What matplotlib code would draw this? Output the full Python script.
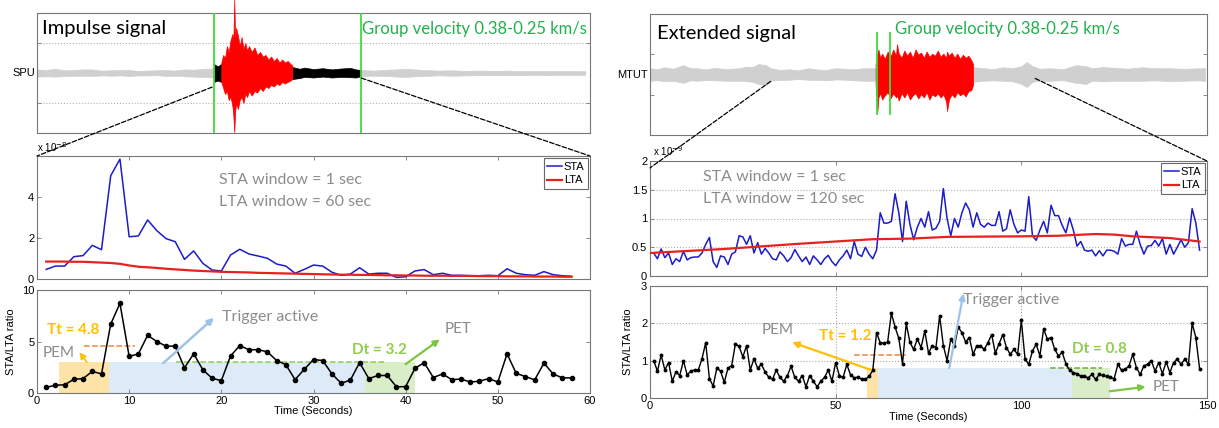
import numpy as np
import matplotlib
matplotlib.use("Agg")
import matplotlib.pyplot as plt
from matplotlib.patches import ConnectionPatch

# ---------------- data ----------------
# Left: impulse signal (SPU), samples every second
left_sta = [0.47, 0.63, 0.63, 1.09, 1.14, 1.64, 1.43, 5.04, 5.85, 2.06,
            2.10, 2.88, 2.36, 1.97, 1.82, 0.96, 1.37, 0.76, 0.44, 0.39,
            1.17, 1.45, 1.22, 1.12, 1.01, 0.73, 0.63, 0.28, 0.47, 0.68,
            0.63, 0.33, 0.18, 0.24, 0.55, 0.24, 0.28, 0.28, 0.08, 0.11,
            0.39, 0.46, 0.21, 0.28, 0.18, 0.18, 0.16, 0.16, 0.18, 0.16,
            0.50, 0.28, 0.21, 0.18, 0.36, 0.21, 0.16, 0.13]
left_lta = [0.85, 0.85, 0.85, 0.84, 0.84, 0.82, 0.80, 0.78, 0.74, 0.66,
            0.60, 0.57, 0.54, 0.50, 0.47, 0.44, 0.41, 0.39, 0.37, 0.35,
            0.34, 0.33, 0.32, 0.30, 0.29, 0.28, 0.27, 0.26, 0.25, 0.24,
            0.23, 0.22, 0.21, 0.21, 0.20, 0.20, 0.19, 0.18, 0.18, 0.17,
            0.17, 0.16, 0.16, 0.16, 0.15, 0.15, 0.15, 0.14, 0.14, 0.14,
            0.13, 0.13, 0.13, 0.12, 0.12, 0.12, 0.11, 0.11]
left_ratio = [0.55, 0.75, 0.80, 1.33, 1.40, 2.10, 1.85, 6.70, 8.70, 3.55,
              3.80, 5.60, 5.00, 4.55, 4.55, 2.45, 3.80, 2.25, 1.43, 1.20,
              3.60, 4.60, 4.20, 4.20, 4.00, 3.15, 2.75, 1.30, 2.30, 3.25,
              3.15, 1.85, 0.95, 1.25, 2.95, 1.40, 1.70, 1.70, 0.60, 0.62,
              2.38, 2.95, 1.50, 1.85, 1.30, 1.35, 1.07, 1.14, 1.40, 1.07,
              3.80, 1.90, 1.60, 1.27, 2.90, 1.85, 1.47, 1.47]
left_time = np.arange(1, len(left_ratio) + 1)
left_pem = (2.4, 7.8)
left_trigger = (7.8, 35.6)
left_pet = (35.6, 41.0)
left_level = 3.0
left_tt = 4.6
left_dt = 3.0

# Right: extended signal (MTUT), samples every second
right_sta = [0.40, 0.30, 0.47, 0.32, 0.40, 0.20, 0.30, 0.25, 0.43, 0.28,
             0.32, 0.33, 0.33, 0.40, 0.55, 0.67, 0.25, 0.15, 0.35, 0.33,
             0.20, 0.38, 0.42, 0.70, 0.68, 0.55, 0.70, 0.40, 0.58, 0.38,
             0.48, 0.40, 0.30, 0.28, 0.42, 0.35, 0.25, 0.32, 0.46, 0.35,
             0.25, 0.33, 0.20, 0.35, 0.28, 0.20, 0.30, 0.36, 0.25, 0.18,
             0.28, 0.35, 0.45, 0.30, 0.60, 0.38, 0.34, 0.50, 0.38, 0.30,
             0.45, 1.10, 0.92, 0.92, 0.95, 1.43, 1.10, 0.60, 1.30, 0.90,
             0.63, 0.85, 1.00, 0.85, 1.12, 0.80, 0.83, 0.95, 1.52, 1.00,
             0.70, 1.00, 0.85, 1.10, 1.27, 1.15, 0.85, 1.10, 0.90, 0.85,
             0.92, 0.88, 0.88, 1.12, 0.78, 0.82, 1.15, 0.90, 0.75, 0.80,
             0.78, 1.38, 0.70, 0.62, 0.80, 0.95, 0.75, 1.23, 1.05, 1.05,
             0.88, 0.75, 1.01, 0.80, 0.52, 0.60, 0.45, 0.43, 0.45, 0.35,
             0.44, 0.35, 0.45, 0.45, 0.43, 0.38, 0.65, 0.52, 0.55, 0.55,
             0.78, 0.55, 0.38, 0.52, 0.53, 0.62, 0.52, 0.65, 0.38, 0.55,
             0.38, 0.50, 0.63, 0.50, 0.58, 1.17, 0.92, 0.45]
right_lta_t = [0, 20, 40, 50, 60, 70, 80, 100, 110, 120, 125, 130, 140, 148]
right_lta = [0.40, 0.47, 0.56, 0.60, 0.64, 0.65, 0.68, 0.69, 0.70, 0.73,
             0.72, 0.69, 0.66, 0.60]
right_ratio = [1.00, 0.72, 1.15, 0.75, 0.95, 0.45, 0.70, 0.60, 1.00, 0.62,
               0.72, 0.75, 0.75, 1.05, 1.48, 0.52, 0.32, 0.80, 0.72, 0.42,
               0.80, 0.87, 1.45, 1.38, 1.10, 1.40, 0.75, 1.05, 0.80, 0.90,
               0.70, 0.55, 0.50, 0.75, 0.55, 0.45, 0.60, 0.85, 0.55, 0.45,
               0.60, 0.30, 0.60, 0.45, 0.30, 0.45, 0.55, 0.75, 0.45, 0.95,
               0.60, 0.55, 0.90, 0.62, 0.54, 0.56, 0.50, 0.50, 0.58, 0.74,
               1.75, 1.48, 1.47, 1.50, 2.27, 1.90, 1.60, 0.92, 2.00, 1.49,
               1.30, 1.58, 1.35, 1.80, 1.20, 1.40, 1.35, 2.20, 1.40, 1.00,
               1.58, 1.40, 1.90, 1.75, 1.50, 1.62, 1.17, 1.40, 1.40, 1.30,
               1.48, 1.70, 1.20, 1.45, 1.70, 1.35, 1.17, 1.30, 1.17, 2.08,
               1.04, 0.90, 1.26, 1.44, 1.13, 1.85, 1.58, 1.62, 1.30, 1.13,
               1.22, 0.92, 0.74, 0.68, 0.65, 0.58, 0.58, 0.54, 0.63, 0.50,
               0.63, 0.61, 0.58, 0.55, 0.52, 0.90, 0.74, 0.77, 0.86, 1.17,
               0.81, 0.63, 0.86, 0.90, 1.00, 0.72, 0.95, 0.65, 0.97, 0.68,
               0.95, 1.04, 0.90, 1.04, 0.90, 2.00, 1.62, 0.79]
right_sta_time = np.arange(1, len(right_sta) + 1)
right_ratio_time = np.arange(1, len(right_ratio) + 1)
right_pem = (58.5, 61.4)
right_trigger = (61.4, 113.7)
right_pet = (113.7, 124.0)
right_level = 0.8
right_tt = 1.16
right_dt = 0.8

# Seismogram envelopes (trace time in s, amplitude units)
lt_gray1_t = [0, 10, 20, 30, 40, 50, 60, 70, 80, 90, 100, 110, 120, 130, 140, 150, 160, 170, 180, 192]
lt_gray1_up = [0.12, 0.10, 0.14, 0.09, 0.10, 0.12, 0.12, 0.08, 0.09, 0.10, 0.10, 0.07, 0.08, 0.09, 0.10, 0.08, 0.12, 0.11, 0.14, 0.15]
lt_gray1_lo = [-0.12, -0.11, -0.12, -0.10, -0.10, -0.09, -0.10, -0.08, -0.09, -0.08, -0.10, -0.08, -0.08, -0.07, -0.10, -0.09, -0.11, -0.12, -0.13, -0.15]
lt_black1_t = [192, 196, 200]
lt_black1_up = [0.30, 0.22, 0.30]
lt_black1_lo = [-0.30, -0.25, -0.30]
lt_red_t = [200, 202, 204, 206, 208, 210, 212, 213, 214, 215,
            216, 218, 220, 222, 224, 226, 228, 230, 233, 236,
            239, 242, 245, 248, 251, 254, 257, 260, 263, 266,
            269, 272, 275, 277]
lt_red_up = [0.35, 0.60, 0.50, 0.90, 0.70, 1.10, 1.30, 1.00, 2.45, 1.20,
             1.50, 1.25, 0.90, 1.20, 0.80, 1.00, 0.75, 0.90, 0.70, 0.85,
             0.60, 0.70, 0.55, 0.60, 0.45, 0.55, 0.40, 0.50, 0.35, 0.45,
             0.35, 0.40, 0.30, 0.25]
lt_red_lo = [-0.30, -0.50, -0.70, -0.60, -0.90, -0.80, -1.10, -1.40, -1.97, -1.30,
             -1.00, -1.20, -0.90, -0.80, -1.00, -0.70, -0.80, -0.60, -0.75, -0.60,
             -0.65, -0.50, -0.60, -0.45, -0.50, -0.40, -0.45, -0.35, -0.40, -0.30,
             -0.35, -0.30, -0.25, -0.20]
lt_black2_t = [277, 285, 290, 300, 310, 320, 330, 340, 346, 352]
lt_black2_up = [0.20, 0.14, 0.18, 0.13, 0.16, 0.12, 0.15, 0.17, 0.12, 0.10]
lt_black2_lo = [-0.20, -0.17, -0.13, -0.15, -0.12, -0.15, -0.13, -0.14, -0.15, -0.10]
lt_gray2_t = [352, 365, 380, 390, 400, 410, 420, 435, 450, 465, 480, 495, 510, 525, 540, 555, 570, 585, 595]
lt_gray2_up = [0.10, 0.08, 0.11, 0.12, 0.14, 0.12, 0.10, 0.08, 0.09, 0.07, 0.08, 0.07, 0.08, 0.06, 0.07, 0.06, 0.07, 0.06, 0.06]
lt_gray2_lo = [-0.10, -0.09, -0.10, -0.12, -0.13, -0.11, -0.10, -0.08, -0.09, -0.08, -0.07, -0.07, -0.07, -0.07, -0.06, -0.07, -0.06, -0.06, -0.06]
left_window = (192, 352)

rt_gray1_t = [0, 8, 15, 25, 36, 44, 50, 60, 70, 82, 96, 104, 110, 117, 125, 130, 140, 150, 160, 170, 180, 190, 200, 210, 220, 230, 243]
rt_gray1_up = [0.30, 0.25, 0.35, 0.28, 0.45, 0.30, 0.30, 0.25, 0.32, 0.26, 0.30, 0.38, 0.35, 0.50, 0.45, 0.30, 0.22, 0.25, 0.20, 0.30, 0.24, 0.22, 0.30, 0.28, 0.25, 0.30, 0.30]
rt_gray1_lo = [-0.30, -0.27, -0.32, -0.30, -0.40, -0.28, -0.30, -0.27, -0.28, -0.30, -0.30, -0.32, -0.35, -0.45, -0.50, -0.30, -0.26, -0.25, -0.22, -0.25, -0.26, -0.28, -0.24, -0.25, -0.28, -0.30, -0.30]
rt_red_t = [243, 245, 246, 248, 250, 253, 256, 259, 262, 265,
            266, 268, 271, 274, 277, 280, 283, 286, 289, 292,
            295, 298, 301, 304, 307, 310, 313, 316, 319, 320,
            322, 325, 328, 331, 334, 337, 340, 343, 346, 348]
rt_red_up = [0.50, 1.00, 1.20, 0.80, 1.00, 0.75, 1.10, 0.85, 1.20, 0.90,
             1.45, 1.00, 0.80, 1.15, 0.90, 1.10, 0.80, 1.20, 0.95, 1.05,
             0.80, 1.10, 0.85, 1.00, 0.90, 1.15, 0.85, 1.00, 0.80, 1.10,
             0.90, 1.05, 0.80, 1.00, 0.75, 0.95, 0.80, 0.90, 0.70, 0.50]
rt_red_lo = [-0.50, -1.75, -1.10, -0.90, -1.20, -1.00, -0.85, -1.15, -0.90, -1.10,
             -1.00, -1.25, -0.90, -1.10, -0.85, -1.20, -1.00, -0.90, -1.15, -0.95,
             -1.10, -0.85, -1.20, -0.95, -1.05, -0.90, -1.10, -0.95, -1.30, -1.75,
             -1.20, -0.95, -1.10, -0.85, -1.00, -0.90, -1.05, -0.80, -0.75, -0.50]
rt_gray2_t = [348, 360, 370, 380, 390, 400, 406, 412, 420, 430, 445, 459, 470, 476, 488, 500, 515, 530, 545, 560, 575, 590, 598]
rt_gray2_up = [0.35, 0.30, 0.26, 0.35, 0.30, 0.40, 0.60, 0.40, 0.28, 0.30, 0.26, 0.45, 0.40, 0.30, 0.36, 0.32, 0.28, 0.35, 0.30, 0.30, 0.27, 0.30, 0.30]
rt_gray2_lo = [-0.35, -0.30, -0.28, -0.30, -0.32, -0.45, -0.60, -0.35, -0.30, -0.30, -0.27, -0.40, -0.45, -0.30, -0.33, -0.30, -0.30, -0.30, -0.28, -0.32, -0.30, -0.28, -0.30]
right_window = (244.5, 258.5)

# ---------------- styling ----------------
TEXT_FONT = ["Lato", "DejaVu Sans"]
TICK_FONT = ["Liberation Sans Narrow", "Liberation Sans", "DejaVu Sans"]
plt.rcParams["font.family"] = TICK_FONT
plt.rcParams["font.size"] = 8

GRAYTXT = "#8c8c8c"
SPINE = "#777777"
BLUE = "#1c1cc8"
RED = "#e8201e"
GREEN_LINE = "#3ddc3d"
GV_GREEN = "#22b04e"
YEL = "#ffc000"
ORANGE = "#f0843c"
DT_GREEN = "#8fce4c"
TRIG_BLUE = "#9dc3e6"
C_PEM = "#fde3a6"
C_TRIG = "#dcebf7"
C_PET = "#d9edc9"
WAVE_GRAY = "#d0d0d0"

W, H = 1219, 428
fig = plt.figure(figsize=(W / 100, H / 100), dpi=100)


def ax_at(x0, y0, x1, y1):
    return fig.add_axes([x0 / W, 1 - y1 / H, (x1 - x0) / W, (y1 - y0) / H])


def matlab_style(ax):
    for s in ax.spines.values():
        s.set_color(SPINE)
        s.set_linewidth(0.8)
    ax.tick_params(direction="in", top=True, right=True, length=3,
                   width=0.6, color=SPINE, labelsize=8, pad=2)


axLT = ax_at(37, 13, 590, 133)
axLM = ax_at(37, 156, 590, 279)
axLB = ax_at(37, 290, 590, 393)
axRT = ax_at(650, 14, 1207, 135)
axRM = ax_at(650, 161, 1207, 276)
axRB = ax_at(650, 286, 1207, 398)
for a in (axLT, axLM, axLB, axRT, axRM, axRB):
    matlab_style(a)

# ---------- top seismograms ----------
def band(ax, t, up, lo, color, z=2, clip=True):
    pc = ax.fill_between(t, lo, up, color=color, lw=0.5, zorder=z)
    pc.set_clip_on(clip)

axLT.set_xlim(0, 600)
axLT.set_ylim(-2, 2)
axLT.set_xticks([])
axLT.set_yticks([-1, 1])
axLT.set_yticklabels([])
axLT.grid(axis="y", ls=":", color="#b0b0b0", lw=0.8)
band(axLT, lt_gray1_t, lt_gray1_up, lt_gray1_lo, WAVE_GRAY)
band(axLT, lt_black1_t, lt_black1_up, lt_black1_lo, "black")
band(axLT, lt_red_t, lt_red_up, lt_red_lo, "#ff0000", z=3, clip=False)
band(axLT, lt_black2_t, lt_black2_up, lt_black2_lo, "black")
band(axLT, lt_gray2_t, lt_gray2_up, lt_gray2_lo, WAVE_GRAY)
for x in left_window:
    axLT.axvline(x, color=GREEN_LINE, lw=1.3, zorder=4)
axLT.text(-0.004, 0, "SPU", transform=axLT.get_yaxis_transform(),
          ha="right", va="center", fontsize=8)
axLT.text(0.009, 0.87, "Impulse signal", transform=axLT.transAxes,
          fontsize=14.5, family=TEXT_FONT, va="center", ha="left")
axLT.text(0.588, 0.87, "Group velocity 0.38-0.25 km/s", transform=axLT.transAxes,
          fontsize=12, family=TEXT_FONT, color=GV_GREEN, va="center", ha="left")

axRT.set_xlim(0, 600)
axRT.set_ylim(-2.9, 2.9)
axRT.set_xticks([])
axRT.set_yticks([-1, 1])
axRT.set_yticklabels([])
band(axRT, rt_gray1_t, rt_gray1_up, rt_gray1_lo, WAVE_GRAY)
band(axRT, rt_red_t, rt_red_up, rt_red_lo, "#ff0000", z=3)
band(axRT, rt_gray2_t, rt_gray2_up, rt_gray2_lo, WAVE_GRAY)
for x in right_window:
    axRT.plot([x, x], [-1.9, 2.0], color=GREEN_LINE, lw=1.3, zorder=4)
axRT.text(-0.004, 0, "MTUT", transform=axRT.get_yaxis_transform(),
          ha="right", va="center", fontsize=8)
axRT.text(0.013, 0.84, "Extended signal", transform=axRT.transAxes,
          fontsize=14.5, family=TEXT_FONT, va="center", ha="left")
axRT.text(0.44, 0.88, "Group velocity 0.38-0.25 km/s", transform=axRT.transAxes,
          fontsize=12, family=TEXT_FONT, color=GV_GREEN, va="center", ha="left")

# ---------- STA / LTA ----------
axLM.plot(left_time, left_sta, color=BLUE, lw=1.1, label="STA", zorder=3)
axLM.plot(left_time, left_lta, color=RED, lw=1.6, label="LTA", zorder=3)
axLM.set_xlim(0, 60)
axLM.set_ylim(0, 6)
axLM.set_yticks([0, 2, 4])
axLM.set_xticks(range(0, 61, 10))
axLM.set_xticklabels([])
axLM.text(0.0, 1.015, r"x 10$^{-8}$", transform=axLM.transAxes, fontsize=7,
          ha="left", va="bottom")
axLM.text(0.329, 0.805, "STA window = 1 sec", transform=axLM.transAxes,
          fontsize=11.5, family=TEXT_FONT, color=GRAYTXT, va="center")
axLM.text(0.329, 0.626, "LTA window = 60 sec", transform=axLM.transAxes,
          fontsize=11.5, family=TEXT_FONT, color=GRAYTXT, va="center")
leg = axLM.legend(loc="upper right", fontsize=8, frameon=True, fancybox=False,
                  edgecolor="#444444", handlelength=1.3, handletextpad=0.2,
                  borderpad=0.3, labelspacing=0.35, borderaxespad=0.2)
leg.get_frame().set_linewidth(0.8)

axRM.plot(right_sta_time, right_sta, color=BLUE, lw=1.1, label="STA", zorder=3)
axRM.plot(right_lta_t, right_lta, color=RED, lw=1.6, label="LTA", zorder=3)
axRM.set_xlim(0, 150)
axRM.set_ylim(0, 2)
axRM.set_yticks([0, 0.5, 1, 1.5, 2])
axRM.set_yticklabels(["0", "0.5", "1", "1.5", "2"])
axRM.set_xticks([0, 50, 100, 150])
axRM.set_xticklabels([])
axRM.grid(axis="y", ls=":", color="#b0b0b0", lw=0.8)
axRM.text(0.005, 1.03, r"x 10$^{-9}$", transform=axRM.transAxes, fontsize=7,
          ha="left", va="bottom")
axRM.text(0.095, 0.86, "STA window = 1 sec", transform=axRM.transAxes,
          fontsize=11.5, family=TEXT_FONT, color=GRAYTXT, va="center")
axRM.text(0.095, 0.67, "LTA window = 120 sec", transform=axRM.transAxes,
          fontsize=11.5, family=TEXT_FONT, color=GRAYTXT, va="center")
leg = axRM.legend(loc="upper right", fontsize=8, frameon=True, fancybox=False,
                  edgecolor="#444444", handlelength=1.3, handletextpad=0.2,
                  borderpad=0.3, labelspacing=0.35, borderaxespad=0.2)
leg.get_frame().set_linewidth(0.8)

# ---------- STA/LTA ratio ----------
def regions(ax, pem, trig, pet, level):
    ax.fill_between(pem, 0, level, color=C_PEM, lw=0, zorder=1)
    ax.fill_between(trig, 0, level, color=C_TRIG, lw=0, zorder=1)
    ax.fill_between(pet, 0, level, color=C_PET, lw=0, zorder=1)

def arrow(ax, start, end, color, lw=1.6):
    ax.annotate("", xy=end, xytext=start,
                arrowprops=dict(arrowstyle="-|>", color=color, lw=lw,
                                mutation_scale=9, shrinkA=0, shrinkB=0),
                zorder=5)

# left
regions(axLB, left_pem, left_trigger, left_pet, left_level)
axLB.plot(left_time, left_ratio, color="black", lw=1.1, marker="o", ms=3,
          zorder=4)
axLB.set_xlim(0, 60)
axLB.set_ylim(0, 10)
axLB.set_yticks([0, 5, 10])
axLB.set_xticks(range(0, 61, 10))
axLB.set_xlabel("Time (Seconds)", fontsize=8, labelpad=0)
axLB.set_ylabel("STA/LTA ratio", fontsize=8, labelpad=4)
axLB.plot([5.1, 10.6], [left_tt, left_tt], ls="--", color=ORANGE, lw=1.1, zorder=3)
axLB.plot([15.1, 37.7], [left_dt, left_dt], ls="--", color=DT_GREEN, lw=1.1, zorder=3)
axLB.text(3.9, 6.1, "Tt = 4.8", color=YEL, fontsize=11, fontweight="bold",
          family=TEXT_FONT, ha="center", va="center", zorder=6)
axLB.text(2.3, 3.85, "PEM", color=GRAYTXT, fontsize=11, family=TEXT_FONT,
          ha="center", va="center", zorder=6)
arrow(axLB, (5.4, 3.0), (4.6, 3.95), YEL, lw=1.3)
arrow(axLB, (13.7, 2.9), (19.2, 7.3), TRIG_BLUE, lw=1.8)
axLB.text(20.1, 7.4, "Trigger active", color=GRAYTXT, fontsize=11.5,
          family=TEXT_FONT, ha="left", va="center", zorder=6)
axLB.text(37.2, 4.2, "Dt = 3.2", color=DT_GREEN, fontsize=11, fontweight="bold",
          family=TEXT_FONT, ha="center", va="center", zorder=6)
arrow(axLB, (40.0, 2.8), (43.7, 5.2), "#7cc444", lw=1.6)
axLB.text(45.7, 6.2, "PET", color=GRAYTXT, fontsize=11, family=TEXT_FONT,
          ha="center", va="center", zorder=6)

# right
regions(axRB, right_pem, right_trigger, right_pet, right_level)
axRB.plot(right_ratio_time, right_ratio, color="black", lw=1.0, marker="o",
          ms=1.8, zorder=4)
axRB.set_xlim(0, 150)
axRB.set_ylim(0, 3)
axRB.set_yticks([0, 1, 2, 3])
axRB.set_xticks([0, 50, 100, 150])
axRB.grid(True, ls=":", color="#a8a8a8", lw=0.8)
axRB.set_axisbelow(True)
axRB.set_xlabel("Time (Seconds)", fontsize=8, labelpad=1)
axRB.set_ylabel("STA/LTA ratio", fontsize=8, labelpad=6)
axRB.plot([55, 68.9], [right_tt, right_tt], ls="--", color=ORANGE, lw=1.1, zorder=3)
axRB.plot([107.8, 121.8], [right_dt, right_dt], ls="--", color="#6fae3c", lw=1.1, zorder=3)
axRB.text(34.4, 1.81, "PEM", color=GRAYTXT, fontsize=11, family=TEXT_FONT,
          ha="center", va="center", zorder=6)
axRB.text(52.7, 1.65, "Tt = 1.2", color=YEL, fontsize=11, fontweight="bold",
          family=TEXT_FONT, ha="center", va="center", zorder=6)
arrow(axRB, (59.3, 0.76), (38.3, 1.49), YEL, lw=1.6)
arrow(axRB, (80.6, 0.8), (84.4, 2.8), TRIG_BLUE, lw=1.6)
axRB.text(84.4, 2.62, "Trigger active", color=GRAYTXT, fontsize=11.5,
          family=TEXT_FONT, ha="left", va="center", zorder=6)
axRB.text(121.0, 1.32, "Dt = 0.8", color=DT_GREEN, fontsize=11, fontweight="bold",
          family=TEXT_FONT, ha="center", va="center", zorder=6)
arrow(axRB, (123.8, 0.18), (133.5, 0.3), "#7cc444", lw=1.6)
axRB.text(139.0, 0.3, "PET", color=GRAYTXT, fontsize=11, family=TEXT_FONT,
          ha="center", va="center", zorder=6)

# ---------- zoom connector lines ----------
def connect(axA, xyA, axB, xyB):
    con = ConnectionPatch(xyA=xyA, coordsA=axA.transData, xyB=xyB,
                          coordsB=axB.transAxes, ls="--", color="black",
                          lw=0.9, zorder=10)
    fig.add_artist(con)

connect(axLT, (190, -0.47), axLM, (0, 1))
connect(axLT, (352, -0.17), axLM, (1, 1))
connect(axRT, (130, -0.33), axRM, (0, 0.94))
connect(axRT, (415, -0.19), axRM, (1, 1))

fig.savefig("out.png", dpi=100)
